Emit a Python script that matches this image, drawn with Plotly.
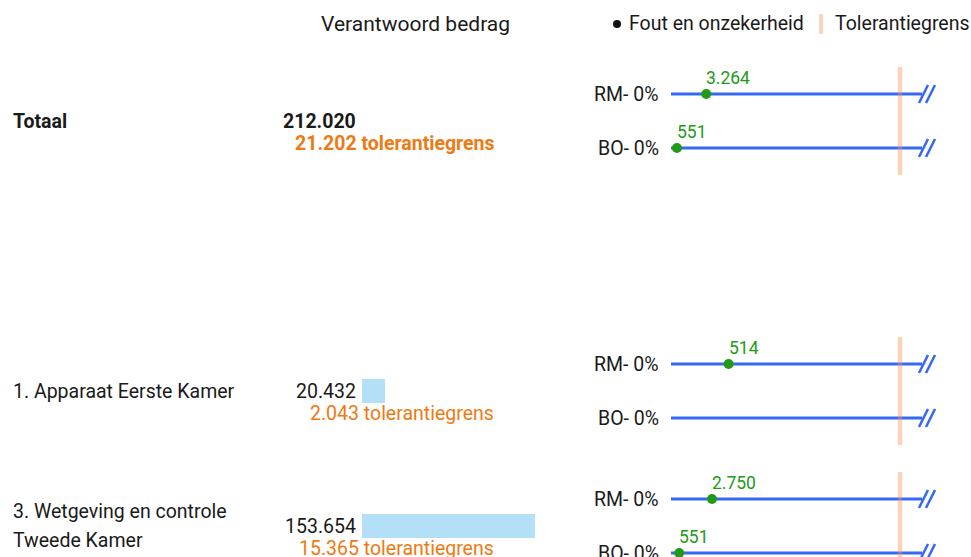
import plotly.graph_objects as go

# ---------------- data ----------------
categories = ["Totaal", "1. Apparaat Eerste Kamer", "3. Wetgeving en controle<br>Tweede Kamer"]
is_total = [True, False, False]
amounts = [212020, 20432, 153654]          # verantwoord bedrag
tolerances = [21202, 2043, 15365]          # tolerantiegrens
row_labels = ["RM- 0%", "BO- 0%"]
rm_errors = [3264, 514, 2750]              # fout en onzekerheid RM
bo_errors = [551, None, 551]               # fout en onzekerheid BO

header_text = "Verantwoord bedrag"
legend_labels = ["Fout en onzekerheid", "Tolerantiegrens"]
tol_suffix = "tolerantiegrens"

# ---------------- layout / style ----------------
W, H = 971, 557
FONT = "Roboto"
FS = 19.5
TXT = "#1a1a1a"
ORANGE_TXT = "#ee7a12"
GREEN = "#229a16"
BLUE = "#3568f4"
BAR = "#b3e0f7"
TOL_LINE = "rgba(240,150,90,0.42)"
LEGEND_TOL = "#f9d5bd"

group_center = [0.5, 5.5, 8.0]   # vertical slot of each group (row units)
row_offset = [-0.5, 0.5]
UNIT_PX, TOP_PX = 54, 94
EXT = 251 / 229                   # line runs a bit past the tolerance
AX_EXT = 280 / 229                # axis room for the break marks


def px(x):
    return x / W


def py(y):
    return 1 - y / H


def nl(v):
    return f"{v:,}".replace(",", ".")


fig = go.Figure()

# bars of verantwoord bedrag (not for total)
bar_x = [a for a, t in zip(amounts, is_total) if not t]
bar_y = [c for c, t in zip(group_center, is_total) if not t]
fig.add_trace(go.Bar(x=bar_x, y=bar_y, orientation="h", width=0.45,
                     marker=dict(color=BAR, line=dict(width=0)),
                     xaxis="x", yaxis="y", hoverinfo="skip", showlegend=False))

shapes = []
annotations = []

for i, (cat, tot, amt, tol) in enumerate(zip(categories, is_total, amounts, tolerances)):
    ax = f"x{i + 2}"
    c = group_center[i]
    errs = [rm_errors[i], bo_errors[i]]
    for off, lab, err in zip(row_offset, row_labels, errs):
        y = c + off
        fig.add_trace(go.Scatter(x=[0, tol * EXT], y=[y, y], mode="lines",
                                 line=dict(color=BLUE, width=3),
                                 xaxis=ax, yaxis="y", hoverinfo="skip", showlegend=False))
        if err is not None:
            fig.add_trace(go.Scatter(x=[err], y=[y], mode="markers",
                                     marker=dict(color=GREEN, size=10),
                                     cliponaxis=False,
                                     xaxis=ax, yaxis="y", hoverinfo="skip", showlegend=False))
            annotations.append(dict(text=nl(err), xref=ax, x=err, xanchor="left", xshift=-2,
                                    yref="y", y=y, yanchor="middle", yshift=16, showarrow=False,
                                    font=dict(size=17.5, color=GREEN, family=FONT)))
        # break marks //
        for dx in (0, 7):
            shapes.append(dict(type="line", xref=ax, xsizemode="pixel", xanchor=tol * EXT,
                               x0=-3 + dx, x1=6 + dx, yref="y", ysizemode="pixel", yanchor=y,
                               y0=-9, y1=9, line=dict(color=BLUE, width=2.5)))
        annotations.append(dict(text=lab, xref="paper", x=px(661), xanchor="right",
                                yref="y", y=y, yanchor="middle", showarrow=False,
                                font=dict(size=FS, color=TXT, family=FONT)))
    # tolerance line
    shapes.append(dict(type="line", xref=ax, x0=tol, x1=tol, yref="y", y0=c - 1, y1=c + 1,
                       line=dict(color=TOL_LINE, width=4.5), layer="above"))
    # category label (one annotation per line)
    lines = cat.split("<br>")
    n = len(lines)
    for k, ln in enumerate(lines):
        t = f"<b>{ln}</b>" if tot else ln
        annotations.append(dict(text=t, xref="paper", x=px(11), xanchor="left",
                                yref="y", y=c, yanchor="middle", yshift=((n - 1) / 2 - k) * 29,
                                showarrow=False, font=dict(size=FS, color=TXT, family=FONT)))
    # amount
    at = f"<b>{nl(amt)}</b>" if tot else nl(amt)
    annotations.append(dict(text=at, xref="x", x=0, xshift=-4, xanchor="right",
                            yref="y", y=c, yanchor="middle", showarrow=False,
                            font=dict(size=FS, color=TXT, family=FONT)))
    tt = f"{nl(tol)} {tol_suffix}"
    if tot:
        tt = f"<b>{tt}</b>"
    annotations.append(dict(text=tt, xref="paper", x=px(497 if tot else 496), xanchor="right",
                            yref="y", y=c, yanchor="middle", yshift=-22, showarrow=False,
                            font=dict(size=FS, color=ORANGE_TXT, family=FONT)))

# header
annotations.append(dict(text=header_text, xref="paper", x=px(415), xanchor="center",
                        yref="paper", y=py(24), yanchor="middle", showarrow=False,
                        font=dict(size=21, color=TXT, family=FONT)))
# legend
shapes.append(dict(type="circle", xref="paper", yref="paper",
                   x0=px(613), x1=px(621), y0=py(28), y1=py(20),
                   fillcolor="#111111", line=dict(width=0)))
annotations.append(dict(text=legend_labels[0], xref="paper", x=px(627), xanchor="left",
                        yref="paper", y=py(24), yanchor="middle", showarrow=False,
                        font=dict(size=FS, color=TXT, family=FONT)))
shapes.append(dict(type="rect", xref="paper", yref="paper",
                   x0=px(819), x1=px(823), y0=py(34), y1=py(14),
                   fillcolor=LEGEND_TOL, line=dict(width=0)))
annotations.append(dict(text=legend_labels[1], xref="paper", x=px(833), xanchor="left",
                        yref="paper", y=py(24), yanchor="middle", showarrow=False,
                        font=dict(size=FS, color=TXT, family=FONT)))

hidden = dict(visible=False, showgrid=False, zeroline=False, fixedrange=True)
layout_axes = dict(
    xaxis=dict(domain=[px(362), px(535)], range=[0, max(bar_x)], anchor="y", **hidden),
    yaxis=dict(domain=[0, 1], range=[(H - TOP_PX) / UNIT_PX, -TOP_PX / UNIT_PX], anchor="x", **hidden),
)
for i, tol in enumerate(tolerances):
    d = dict(domain=[px(671), px(951)], range=[0, tol * AX_EXT], anchor="y", **hidden)
    if i > 0:
        d["overlaying"] = "x2"
    layout_axes[f"xaxis{i + 2}"] = d

fig.update_layout(
    width=W, height=H, margin=dict(l=0, r=0, t=0, b=0),
    paper_bgcolor="white", plot_bgcolor="rgba(0,0,0,0)",
    separators=",.", showlegend=False, bargap=0,
    font=dict(family=FONT, color=TXT),
    shapes=shapes, annotations=annotations,
    **layout_axes,
)

fig.write_html("out.html", default_width=f"{W}px", default_height=f"{H}px",
               config={"displayModeBar": False},
               post_script="document.body.style.margin='0';document.body.style.overflow='hidden';")
